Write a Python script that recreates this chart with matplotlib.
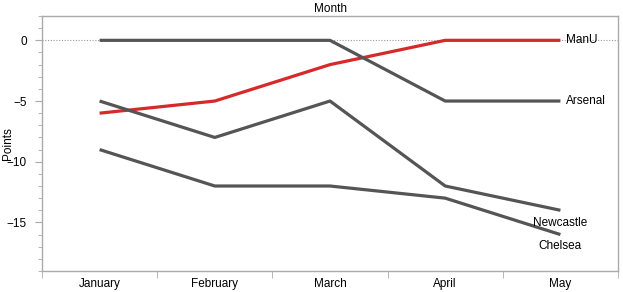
import matplotlib
matplotlib.use("Agg")
import matplotlib.pyplot as plt
from matplotlib.ticker import MultipleLocator
import numpy as np

# Data
months = ["January", "February", "March", "April", "May"]
manu = [-6, -5, -2, 0, 0]
arsenal = [0, 0, 0, -5, -5]
newcastle = [-5, -8, -5, -12, -14]
chelsea = [-9, -12, -12, -13, -16]

teams = ["ManU", "Arsenal", "Newcastle", "Chelsea"]
series = [manu, arsenal, newcastle, chelsea]
colors = ["#d62a2a", "#555555", "#555555", "#555555"]

plt.rcParams['font.family'] = ['Liberation Sans', 'DejaVu Sans']

fig = plt.figure(figsize=(6.23, 2.92), dpi=100)
ax = fig.add_axes([0.0674, 0.072, 0.9246, 0.873])

x = np.arange(len(months))

# reference line at zero
ax.axhline(0, color="#999999", linestyle=(0, (1, 1.5)), linewidth=0.8, zorder=1)

for name, vals, col in zip(teams, series, colors):
    ax.plot(x, vals, color=col, linewidth=2.3, solid_capstyle="butt", zorder=2)

# end labels
ax.annotate("ManU", (x[-1], manu[-1]), xytext=(4, 0), textcoords="offset points",
            va="center", ha="left", fontsize=8.5)
ax.annotate("Arsenal", (x[-1], arsenal[-1]), xytext=(4, 0), textcoords="offset points",
            va="center", ha="left", fontsize=8.5)
ax.annotate("Newcastle", (x[-1], newcastle[-1]), xytext=(0, -5), textcoords="offset points",
            va="top", ha="center", fontsize=8.5)
ax.annotate("Chelsea", (x[-1], chelsea[-1]), xytext=(0, -4), textcoords="offset points",
            va="top", ha="center", fontsize=8.5)

ax.set_xlim(-0.5, 4.5)
ax.set_ylim(-19, 2)

# category labels centered, tick marks at boundaries
ax.set_xticks(x)
ax.set_xticklabels(months, fontsize=8.5)
ax.tick_params(axis="x", which="major", length=0, pad=5)
ax.set_xticks(np.arange(-0.5, 5.0, 1.0), minor=True)
ax.tick_params(axis="x", which="minor", length=5, color="#aaaaaa", direction="out")

ax.yaxis.set_major_locator(MultipleLocator(5))
ax.yaxis.set_minor_locator(MultipleLocator(1))
ax.tick_params(axis="y", which="major", length=5, color="#aaaaaa", labelsize=8.5, pad=6)
ax.tick_params(axis="y", which="minor", length=3, color="#aaaaaa")

for sp in ax.spines.values():
    sp.set_color("#aaaaaa")
    sp.set_linewidth(1.0)

ax.set_ylabel("Points", fontsize=8.5)
ax.yaxis.set_label_coords(-0.048, 0.5)
ax.set_title("Month", fontsize=8.5, pad=3)

fig.savefig("out.png", dpi=100)
